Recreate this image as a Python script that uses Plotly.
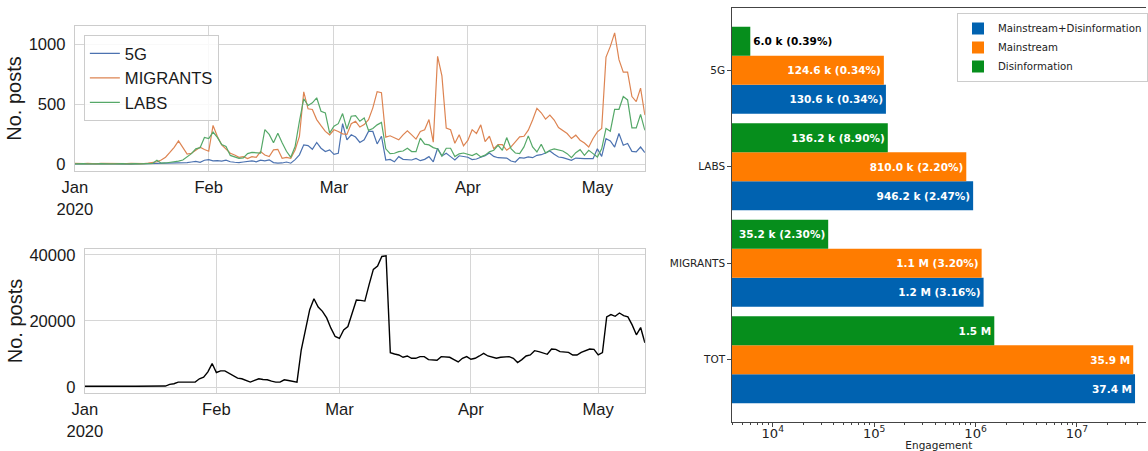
import pandas as pd
import plotly.graph_objects as go

# ---------------- data ----------------
dates = pd.date_range("2020-01-01", "2020-05-12", freq="D")

fiveg = [
    # Jan
    5, 4, 6, 5, 3, 4, 6, 5, 4, 5, 6, 4, 5, 3, 5, 6, 4, 5, 6, 8,
    6, 8, 10, 12, 10, 12, 15, 20, 25, 18, 35,
    # Feb
    40, 30, 32, 28, 35, 22, 18, 15, 20, 25, 30, 22, 35, 30, 38, 15, 10, 12, 20, 10,
    40, 80, 163, 157, 126, 183, 135, 107, 121,
    # Mar
    84, 93, 340, 205, 247, 228, 183, 205, 275, 275, 171, 235, 37, 42, 22, 65, 42, 37, 37, 50,
    31, 42, 65, 22, 135, 70, 93, 65, 37, 72, 66,
    # Apr
    60, 40, 45, 60, 73, 95, 67, 56, 56, 53, 28, 20, 56, 53, 62, 56, 76, 81, 95, 112,
    84, 62, 56, 48, 34, 53, 48, 48, 48, 48,
    # May
    130, 67, 215, 196, 145, 258, 160, 174, 109, 104, 145, 98,
]

migrants = [
    # Jan
    8, 6, 7, 9, 6, 5, 8, 7, 10, 8, 6, 9, 7, 8, 6, 9, 7, 10, 15, 22,
    37, 60, 100, 143, 197, 140, 87, 93, 121, 143, 125,
    # Feb
    110, 325, 233, 163, 126, 93, 79, 59, 65, 48, 65, 59, 107, 79, 65, 121, 126, 51, 59, 51,
    121, 233, 605, 464, 458, 374, 323, 275, 247,
    # Mar
    289, 275, 255, 250, 340, 360, 312, 332, 374, 472, 607, 598, 228, 239, 225, 205, 247, 281, 247, 211,
    275, 289, 374, 186, 902, 739, 303, 289, 177, 247, 155,
    # Apr
    200, 290, 258, 330, 190, 235, 132, 165, 165, 118, 146, 188, 230, 235, 286, 370, 468, 431, 378, 412,
    370, 308, 286, 258, 216, 244, 202, 179, 146, 216,
    # May
    272, 300, 896, 985, 1098, 874, 770, 770, 566, 524, 636, 412,
]

labs = [
    # Jan
    5, 8, 6, 4, 7, 5, 6, 8, 5, 4, 7, 6, 5, 8, 6, 5, 7, 6, 8, 35,
    10, 12, 17, 20, 28, 37, 65, 90, 130, 140, 225,
    # Feb
    215, 270, 225, 165, 150, 75, 60, 50, 55, 90, 100, 95, 95, 290, 250, 180, 260, 180, 110, 59,
    149, 360, 548, 492, 514, 556, 444, 430, 261,
    # Mar
    318, 340, 424, 295, 402, 407, 360, 388, 284, 300, 330, 350, 130, 90, 93, 107, 112, 135, 107, 107,
    219, 169, 163, 140, 129, 70, 135, 135, 65, 88, 95,
    # Apr
    82, 73, 91, 63, 77, 105, 118, 160, 118, 224, 132, 95, 90, 146, 238, 146, 104, 168, 95, 118,
    129, 118, 112, 90, 56, 98, 123, 76, 118, 90,
    # May
    62, 130, 300, 277, 460, 460, 566, 538, 305, 305, 417, 285,
]

tot_posts = [
    # Jan
    250, 230, 260, 240, 220, 250, 270, 240, 230, 260, 250, 240, 230, 260, 280, 250, 240, 260, 280, 300,
    800, 1000, 1500, 1500, 1500, 1500, 1500, 2500, 3000, 4600, 7100,
    # Feb
    4400, 4900, 4900, 4100, 3300, 2700, 2500, 2000, 1500, 2000, 2500, 2300, 2200, 1800, 1500, 1500,
    2200, 2000, 1800, 1500, 11200, 17300, 23400, 26700, 24200, 22900, 20900, 17800, 15300,
    # Mar
    14700, 17300, 18300, 22600, 26300, 26200, 26000, 31000, 35600, 36600, 39500, 39700, 10400, 10000,
    9700, 9000, 9400, 8700, 8700, 9200, 9200, 8300, 8300, 8100, 9200, 9200, 9000, 8300, 7600, 8700, 9200,
    # Apr
    8400, 8700, 9400, 10200, 9400, 9000, 8700, 9000, 9200, 9200, 8700, 7400, 8300, 9400, 9700, 11000,
    10700, 10400, 9900, 11500, 11400, 10700, 10500, 10500, 9700, 9700, 10500, 11000, 11500, 11400,
    # May
    9700, 10400, 21200, 21900, 21400, 22400, 21600, 21200, 18800, 15800, 18000, 13400,
]

month_ticks = ["2020-01-01", "2020-02-01", "2020-03-01", "2020-04-01", "2020-05-01"]
month_labels = ["Jan<br>2020", "Feb", "Mar", "Apr", "May"]

categories = ["TOT", "MIGRANTS", "LABS", "5G"]
eng_md = [37.4e6, 1.2e6, 946.2e3, 130.6e3]
eng_main = [35.9e6, 1.148e6, 810.0e3, 124.6e3]
eng_dis = [1.53e6, 35.2e3, 136.2e3, 6.0e3]
lab_md = ["37.4 M", "1.2 M (3.16%)", "946.2 k (2.47%)", "130.6 k (0.34%)"]
lab_main = ["35.9 M", "1.1 M (3.20%)", "810.0 k (2.20%)", "124.6 k (0.34%)"]
lab_dis = ["1.5 M", "35.2 k (2.30%)", "136.2 k (8.90%)", "6.0 k (0.39%)"]
pos_dis = ["inside", "inside", "inside", "outside"]

# ---------------- figure ----------------
W, H = 1148, 451
LFONT = "Liberation Sans, Arial, sans-serif"
DFONT = "DejaVu Sans, sans-serif"
GRID = "#d6d6d6"
TXT = "#1a1a1a"

fig = go.Figure()

line_specs = [("5G", fiveg, "#4C72B0"), ("MIGRANTS", migrants, "#DD8452"), ("LABS", labs, "#55A868")]
for name, vals, col in line_specs:
    fig.add_trace(go.Scatter(x=dates, y=vals, name=name, mode="lines",
                             line=dict(color=col, width=1.2),
                             xaxis="x", yaxis="y", legend="legend", legendgroup=name))

fig.add_trace(go.Scatter(x=dates, y=tot_posts, mode="lines", showlegend=False,
                         line=dict(color="black", width=1.4), xaxis="x2", yaxis="y2"))

bar_specs = [
    ("Mainstream+Disinformation", eng_md, lab_md, "#0062B0", ["inside"] * 4),
    ("Mainstream", eng_main, lab_main, "#FF7C00", ["inside"] * 4),
    ("Disinformation", eng_dis, lab_dis, "#068E1C", pos_dis),
]
for name, vals, labels, col, pos in bar_specs:
    fig.add_trace(go.Bar(y=categories, x=vals, orientation="h", name=name,
                         marker=dict(color=col, line=dict(width=0)),
                         text=labels, textposition=pos, insidetextanchor="end",
                         insidetextfont=dict(family=DFONT, size=10.5, color="white", weight="bold"),
                         outsidetextfont=dict(family=DFONT, size=10.5, color="black", weight="bold"),
                         textangle=0, cliponaxis=False, hoverinfo="x+name",
                         xaxis="x3", yaxis="y3", legend="legend2"))


def px_x(p):
    return p / W


def px_y(p):
    return 1 - p / H


left_common = dict(showgrid=True, gridcolor=GRID, gridwidth=1, showline=True, mirror=True,
                   linecolor="#cccccc", linewidth=1, ticks="", zeroline=False,
                   tickfont=dict(family=LFONT, size=16.6, color=TXT), automargin=False)

date_axis = dict(type="date", range=["2020-01-01", "2020-05-12"],
                 tickmode="array", tickvals=month_ticks, ticktext=month_labels,
                 ticklabelstandoff=1, **left_common)

fig.update_layout(
    width=W, height=H, margin=dict(l=0, r=0, t=0, b=0),
    paper_bgcolor="white", plot_bgcolor="white",
    barmode="group", bargap=0.1, bargroupgap=0,
    xaxis=dict(domain=[px_x(75), px_x(646)], anchor="y", **date_axis),
    yaxis=dict(domain=[px_y(171), px_y(26)], anchor="x", range=[-55, 1155],
               tickvals=[0, 500, 1000], ticklabelstandoff=5,
               title=dict(text="No. posts", font=dict(family=LFONT, size=20, color=TXT), standoff=1),
               **left_common),
    xaxis2=dict(domain=[px_x(85), px_x(646)], anchor="y2", **date_axis),
    yaxis2=dict(domain=[px_y(393), px_y(249)], anchor="x2", range=[-1800, 41750],
                tickvals=[0, 20000, 40000], tickformat="d", ticklabelstandoff=5,
                title=dict(text="No. posts", font=dict(family=LFONT, size=20, color=TXT), standoff=1),
                **left_common),
    xaxis3=dict(domain=[px_x(733), 1], anchor="y3", type="log", range=[3.595, 7.681],
                dtick=1, exponentformat="power", showgrid=False, zeroline=False,
                showline=True, mirror=True, linecolor="#444444", linewidth=1,
                ticks="outside", ticklen=3.5, tickwidth=0.8, tickcolor="#444444",
                ticklabelstandoff=-4,
                minor=dict(ticks="outside", ticklen=2, tickwidth=0.6, tickcolor="#444444",
                           dtick="D1", showgrid=False),
                tickfont=dict(family=DFONT, size=10.5, color="#222222"),
                title=dict(text="Engagement", font=dict(family=DFONT, size=10.5, color="#222222"), standoff=1),
                automargin=False),
    yaxis3=dict(domain=[px_y(422), px_y(8)], anchor="x3", type="category",
                categoryorder="array", categoryarray=categories, range=[-0.645, 3.645],
                showgrid=False, zeroline=False, showline=True, linecolor="#444444", linewidth=1,
                ticks="outside", ticklen=3.5, tickwidth=0.8, tickcolor="#444444",
                tickfont=dict(family=DFONT, size=10.5, color="#222222"), automargin=False),
    legend=dict(x=px_x(84), y=px_y(35), xanchor="left", yanchor="top",
                bgcolor="rgba(255,255,255,0.85)", bordercolor="#cccccc", borderwidth=1,
                font=dict(family=LFONT, size=16.6, color=TXT),
                traceorder="grouped", tracegroupgap=0),
    legend2=dict(x=px_x(959), y=px_y(13), xanchor="left", yanchor="top",
                 bgcolor="rgba(255,255,255,0.85)", bordercolor="#cccccc", borderwidth=1,
                 font=dict(family=DFONT, size=10.2, color="#222222"), traceorder="normal"),
    showlegend=True,
)

fig.write_html("out.html", config={"displayModeBar": False},
               post_script="document.body.style.margin='0px';")
